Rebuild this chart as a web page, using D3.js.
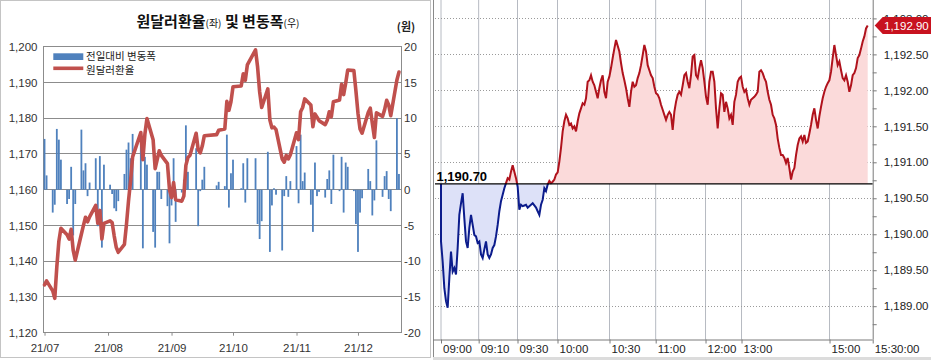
<!DOCTYPE html>
<html><head><meta charset="utf-8">
<script src="https://cdn.jsdelivr.net/npm/d3@7"></script>
<style>body{margin:0;background:#fff}svg{display:block}</style>
</head><body>
<svg id="c" width="931" height="360"></svg>
<script>
// ================= LEFT CHART DATA =================
const tradeDates = [
"07-01","07-02","07-05","07-06","07-07","07-08","07-09","07-12","07-13","07-14","07-15","07-16","07-19","07-20","07-21","07-22","07-23","07-26","07-27","07-28","07-29","07-30",
"08-02","08-03","08-04","08-05","08-06","08-09","08-10","08-11","08-12","08-13","08-17","08-18","08-19","08-20","08-23","08-24","08-25","08-26","08-27","08-30","08-31",
"09-01","09-02","09-03","09-06","09-07","09-08","09-09","09-10","09-13","09-14","09-15","09-16","09-17","09-23","09-24","09-27","09-28","09-29","09-30",
"10-01","10-05","10-06","10-07","10-08","10-12","10-13","10-14","10-15","10-18","10-19","10-20","10-21","10-22","10-25","10-26","10-27","10-28","10-29",
"11-01","11-02","11-03","11-04","11-05","11-08","11-09","11-10","11-11","11-12","11-15","11-16","11-17","11-18","11-19","11-22","11-23","11-24","11-25","11-26","11-29","11-30",
"12-01","12-02","12-03","12-06","12-07","12-08","12-09","12-10","12-13","12-14","12-15","12-16","12-17","12-20","12-21"];
const usdKrw = [
1133.4,1134.5,1131.7,1129.6,1138.4,1145.6,1149.2,1147.4,1146.2,1148.9,1143.0,1140.3,1147.6,1150.0,1152.3,1151.0,1152.4,1155.6,1150.6,1154.2,1146.2,1150.6,
1151.3,1150.8,1147.1,1143.9,1142.5,1144.7,1150.3,1156.9,1162.5,1169.2,1176.0,1168.4,1175.6,1179.9,1174.0,1165.9,1168.4,1170.9,1169.6,1167.3,1160.0,
1157.8,1162.0,1157.2,1156.8,1158.2,1166.8,1169.0,1169.6,1175.8,1171.2,1170.3,1172.2,1175.1,1175.4,1176.6,1177.0,1184.7,1182.2,1184.6,
1188.8,1189.0,1192.4,1190.6,1194.9,1199.1,1194.3,1187.4,1183.0,1188.2,1179.5,1177.3,1177.5,1176.8,1168.6,1167.7,1169.6,1168.6,1169.8,
1175.9,1174.0,1181.8,1183.0,1185.4,1183.7,1177.6,1181.2,1180.3,1179.3,1178.2,1179.4,1181.8,1180.4,1184.6,1185.1,1189.5,1186.6,1189.8,1193.5,1193.3,1187.6,
1181.4,1177.0,1175.8,1181.6,1182.8,1178.6,1174.6,1181.5,1180.5,1182.4,1185.0,1183.7,1180.7,1190.7,1192.9];
const dailyChange = [
7.1,2.0,-3.2,-2.1,8.5,7.0,4.2,-2.0,-1.3,3.2,-6.4,-2.0,8.4,2.7,3.7,-0.9,1.0,4.4,-5.1,4.7,-8.1,3.5,
0.7,-0.6,-2.6,-3.0,-1.6,2.2,5.6,6.6,4.4,7.8,6.6,-8.2,4.6,3.5,-5.9,-8.1,2.5,2.5,-1.3,-2.3,-7.5,
-2.2,4.4,-4.5,-0.4,1.4,9.0,2.5,0.1,5.8,-5.1,-0.2,1.4,3.2,0.6,1.1,0.5,7.7,-2.5,2.3,
4.2,0.2,3.7,-1.8,4.4,4.4,-4.8,-6.9,-4.4,5.3,-8.7,-2.2,0.2,-0.7,-8.5,-0.9,1.9,-1.0,1.2,
6.1,-1.9,7.7,1.2,2.4,-2.1,-5.9,3.8,-0.9,-0.3,-1.1,1.5,2.7,-2.0,4.9,-0.2,4.6,-3.2,3.8,3.2,-0.2,-4.8,
-8.7,-3.2,-1.2,2.9,1.2,-3.6,-1.5,6.9,-1.0,1.9,2.6,-1.3,-3.0,10.0,2.2];
const rateTicks = [1120,1130,1140,1150,1160,1170,1180,1190,1200];
const changeTicks = [-20,-15,-10,-5,0,5,10,15,20];
const monthTicks = ["07-01","08-01","09-01","10-01","11-01","12-01"];
const monthLabels = ["21/07","21/08","21/09","21/10","21/11","21/12"];
const leftTitle = ["원달러환율", "(좌)", " 및 ", "변동폭", "(우)"];
const legendNames = ["전일대비 변동폭", "원달러환율"];

// ================= RIGHT CHART DATA =================
const prevClose = 1190.70;
const lastPrice = 1192.90;
const intraday = [
1189.90,1189.62,1189.25,1189.07,1188.98,1189.39,1189.76,1189.48,1189.53,1189.44,
1189.81,1190.27,1190.43,1190.57,1190.22,1189.90,1189.81,1190.09,1190.27,1190.13,
1189.99,1189.97,1189.88,1189.90,1189.72,1189.67,1189.79,1189.90,1189.72,1189.67,
1189.72,1189.81,1189.85,1189.97,1190.13,1190.32,1190.46,1190.55,1190.64,1190.71,
1190.78,1190.76,1190.87,1190.96,1190.87,1190.78,1190.66,1190.34,1190.41,1190.39,
1190.40,1190.41,1190.37,1190.39,1190.41,1190.43,1190.40,1190.37,1190.32,1190.27,
1190.41,1190.48,1190.64,1190.60,1190.69,1190.74,1190.71,1190.73,1190.76,1190.83,
1190.86,1191.01,1191.20,1191.43,1191.57,1191.66,1191.61,1191.52,1191.54,1191.47,
1191.50,1191.43,1191.57,1191.68,1191.75,1191.82,1191.80,1191.89,
1192.12,1192.14,1192.21,1192.12,1192.07,1191.98,1191.89,1192.03,1192.14,1192.21,
1191.98,1191.89,1192.12,1192.19,1192.31,1192.45,1192.58,1192.70,1192.62,1192.54,
1192.38,1192.24,1192.14,1192.03,1191.89,1191.77,1191.98,1192.12,1192.05,1192.07,
1192.17,1192.24,1192.35,1192.49,1192.63,1192.54,1192.35,1192.28,1192.21,1192.17,
1192.05,1191.96,1191.94,1191.89,1191.80,1191.73,1191.66,1191.59,1191.66,1191.70,
1191.66,1191.45,1191.70,1191.84,1191.94,1191.98,1191.94,1192.07,1192.21,1192.24,
1192.12,1192.03,1192.21,1192.47,1192.49,1192.21,1192.17,1192.31,1192.42,1192.31,
1192.12,1191.91,1191.80,1192.12,1192.26,1192.26,1192.12,1191.75,1191.47,1191.75,
1191.96,1191.94,1191.70,1191.84,1191.75,1191.61,
1191.66,1191.52,1191.84,1191.94,1192.12,1192.17,1192.19,1192.05,1191.98,1192.01,
1191.89,1191.80,1191.87,1191.89,1191.91,1191.94,1191.98,1192.26,1192.28,1192.24,
1192.17,1192.12,1191.98,1191.87,1191.80,1191.66,1191.61,1191.52,1191.33,1191.20,
1191.10,1191.10,1191.06,1190.99,1191.06,1190.92,1190.76,1190.87,1190.92,1191.10,
1191.24,1191.33,1191.36,1191.29,1191.38,1191.27,1191.29,1191.40,1191.52,1191.66,
1191.75,1191.59,1191.47,1191.64,1191.77,1191.89,1191.98,1192.05,1192.10,1192.14,
1192.26,1192.45,1192.63,1192.49,1192.35,1192.40,1192.28,1192.17,1192.14,1192.21,
1192.12,1191.98,1192.07,1192.21,1192.24,1192.31,1192.45,1192.49,1192.58,1192.68,
1192.75,1192.86,1192.90];
const timeLabels = ["09:00","09:10","09:30","10:00","10:30","11:00","12:00","13:00","15:00","15:30:00"];
const timeLabelTick = [0,22.6,45.9,69.9,101.1,128.8,158.7,180.3,233.1,259];
const priceTicks = [1189.0,1189.5,1190.0,1190.5,1191.0,1191.5,1192.0,1192.5,1193.0];
const priceMinorTicks = [1188.75,1189.0,1189.25,1189.5,1189.75,1190.0,1190.25,1190.5,1190.75,1191.0,1191.25,1191.5,1191.75,1192.0,1192.25,1192.5,1192.75,1193.0];

// ================= DRAW =================
const svg = d3.select("#c");
const KR = "'Noto Sans CJK KR','Noto Sans',sans-serif";
const NUM = "'Liberation Sans',Arial,sans-serif";
const parseD = s => new Date(2021, +s.slice(0,2)-1, +s.slice(3));

// ---- left panel frame ----
svg.append("rect").attr("x",0.5).attr("y",0.5).attr("width",430).attr("height",357)
  .attr("fill","#fff").attr("stroke","#c4c4c4");

const L = {x0:43.5, x1:401, y0:46.7, y1:332.7};
const xL = d3.scaleTime().domain([new Date(2021,5,30,12), new Date(2021,11,22)]).range([L.x0, L.x1]);
const yL = d3.scaleLinear().domain([1120,1200]).range([L.y1, L.y0]);
const yB = d3.scaleLinear().domain([-20,20]).range([L.y1, L.y0]);

// gridlines
svg.append("g").selectAll("line").data(rateTicks).join("line")
  .attr("x1",L.x0).attr("x2",L.x1).attr("y1",d=>yL(d)).attr("y2",d=>yL(d))
  .attr("stroke","#8c8c8c").attr("stroke-width",1).attr("shape-rendering","crispEdges");
svg.append("rect").attr("x",L.x0).attr("y",L.y0).attr("width",L.x1-L.x0).attr("height",L.y1-L.y0)
  .attr("fill","none").attr("stroke","#8c8c8c").attr("shape-rendering","crispEdges");

// bars
const dts = tradeDates.map(parseD);
svg.append("g").selectAll("rect").data(dailyChange).join("rect")
  .attr("x",(d,i)=>xL(dts[i])-0.9).attr("width",1.8)
  .attr("y",d=>Math.min(yB(d),yB(0))).attr("height",d=>Math.abs(yB(d)-yB(0)))
  .attr("fill","#4f81bd");

// line
svg.append("path").datum(usdKrw)
  .attr("d", d3.line().x((d,i)=>xL(dts[i])).y(d=>yL(d)))
  .attr("fill","none").attr("stroke","#c0504d").attr("stroke-width",3.6)
  .attr("stroke-linejoin","round").attr("stroke-linecap","round");

// axes
const axL = svg.append("g").attr("transform",`translate(${L.x0},0)`)
  .call(d3.axisLeft(yL).tickValues(rateTicks).tickFormat(d3.format(",")).tickSize(0).tickPadding(6));
const axR = svg.append("g").attr("transform",`translate(${L.x1},0)`)
  .call(d3.axisRight(yB).tickValues(changeTicks).tickFormat(d=>String(d)).tickSize(0).tickPadding(3));
const axB = svg.append("g").attr("transform",`translate(0,${L.y1})`)
  .call(d3.axisBottom(xL).tickValues(monthTicks.map(parseD)).tickFormat((d,i)=>monthLabels[i]).tickSize(3).tickPadding(8));
[axL,axR,axB].forEach(a=>{
  a.select(".domain").remove();
  a.selectAll("text").attr("font-family",NUM).attr("font-size",11.5).attr("fill","#333");
  a.selectAll("line").attr("stroke","#8c8c8c");
});

// title
const tt = svg.append("text").attr("x",218).attr("y",27).attr("text-anchor","middle")
  .attr("font-family",KR).attr("font-weight","bold").attr("fill","#111");
tt.append("tspan").attr("font-size",15).text(leftTitle[0]);
tt.append("tspan").attr("font-size",10).attr("font-weight","normal").text(leftTitle[1]);
tt.append("tspan").attr("font-size",15).text(leftTitle[2]);
tt.append("tspan").attr("font-size",15).text(leftTitle[3]);
tt.append("tspan").attr("font-size",10).attr("font-weight","normal").text(leftTitle[4]);
svg.append("text").attr("x",406).attr("y",31).attr("text-anchor","middle")
  .attr("font-family",KR).attr("font-size",11).attr("font-weight","bold").attr("fill","#222").text("(원)");

// legend
svg.append("rect").attr("x",53.3).attr("y",53.3).attr("width",30).attr("height",6.7).attr("fill","#4f81bd");
svg.append("line").attr("x1",53.3).attr("x2",83.3).attr("y1",68.3).attr("y2",68.3)
  .attr("stroke","#c0504d").attr("stroke-width",3.6);
svg.append("text").attr("x",86).attr("y",60.2).attr("font-family",KR).attr("font-size",10.5).attr("fill","#222").text(legendNames[0]);
svg.append("text").attr("x",86).attr("y",74).attr("font-family",KR).attr("font-size",10.5).attr("fill","#222").text(legendNames[1]);

// ---------- RIGHT PANEL ----------
svg.append("line").attr("x1",433.5).attr("x2",433.5).attr("y1",0).attr("y2",357)
  .attr("stroke","#8a8a8a");
svg.append("rect").attr("x",433).attr("y",357).attr("width",498).attr("height",3).attr("fill","#dcdcdc");

const xR = d3.scaleLinear().domain([0,259]).range([441,872.7]);
const yR = d3.scaleLinear().domain([1189,1193]).range([306.2,18.4]);
const AX_Y = 339.5, GX0 = 435, GX1 = xR(259);

// vertical grid
svg.append("g").selectAll("line").data(timeLabelTick.slice(0,-1)).join("line")
  .attr("x1",d=>xR(d)).attr("x2",d=>xR(d)).attr("y1",0).attr("y2",AX_Y)
  .attr("stroke","#b6bac2").attr("stroke-width",1);
// dotted horizontal grid
svg.append("g").selectAll("line").data(priceTicks).join("line")
  .attr("x1",GX0).attr("x2",GX1).attr("y1",d=>Math.round(yR(d))+0.5).attr("y2",d=>Math.round(yR(d))+0.5)
  .attr("stroke","#9a9a9a").attr("stroke-width",1).attr("stroke-dasharray","1,2");

const yBase = yR(prevClose);
const defs = svg.append("defs");
defs.append("clipPath").attr("id","above").append("rect")
  .attr("x",433).attr("y",0).attr("width",445).attr("height",yBase);
defs.append("clipPath").attr("id","below").append("rect")
  .attr("x",433).attr("y",yBase).attr("width",445).attr("height",AX_Y-yBase);

const pts = [{i:0,p:prevClose}].concat(intraday.map((p,i)=>({i,p})));
const area = d3.area().x(d=>xR(d.i)).y0(yBase).y1(d=>yR(d.p));
const line = d3.line().x(d=>xR(d.i)).y(d=>yR(d.p));

[["above","#fbdada","#b0121c"],["below","#dde1f8","#0c1c8c"]].forEach(([id,fill,stroke])=>{
  const g = svg.append("g").attr("clip-path",`url(#${id})`);
  g.append("path").datum(pts).attr("d",area).attr("fill",fill);
  g.append("path").datum(pts).attr("d",line).attr("fill","none")
    .attr("stroke",stroke).attr("stroke-width",2).attr("stroke-linejoin","miter");
});

// previous close line
svg.append("line").attr("x1",GX0).attr("x2",GX1).attr("y1",yBase).attr("y2",yBase)
  .attr("stroke","#000").attr("stroke-width",1.3);
svg.append("text").attr("x",436.5).attr("y",yBase-2.8).attr("font-family",NUM).attr("font-weight","bold")
  .attr("font-size",13).attr("fill","#000").text(d3.format(",.2f")(prevClose));

// right axis
const ayR = svg.append("g").attr("transform",`translate(${GX1},0)`)
  .call(d3.axisRight(yR).tickValues(priceMinorTicks)
    .tickFormat(d => priceTicks.includes(d) ? d3.format(",.2f")(d) : "")
    .tickSize(4).tickPadding(7));
ayR.select(".domain").attr("d",`M0.5,0V${AX_Y}`).attr("stroke","#7a7a7a");
ayR.selectAll("line").attr("stroke","#7a7a7a");
ayR.selectAll("text").attr("font-family",NUM).attr("font-size",11.5).attr("fill","#222");

// bottom axis
const axT = svg.append("g").attr("transform",`translate(0,${AX_Y})`)
  .call(d3.axisBottom(xR).tickValues(timeLabelTick).tickFormat((d,i)=>timeLabels[i]).tickSize(4).tickPadding(1));
axT.select(".domain").attr("d",`M433,0.5H${GX1}`).attr("stroke","#7a7a7a");
axT.selectAll("line").attr("stroke","#7a7a7a");
axT.selectAll("text").attr("text-anchor","start").attr("x",1.5)
  .attr("font-family",NUM).attr("font-size",11.5).attr("fill","#222");

// last price marker
const yLast = yR(lastPrice);
svg.append("path")
  .attr("d",`M${GX1+2},${yLast} L${GX1+10},${yLast-8.5} H931 V${yLast+8.5} H${GX1+10} Z`)
  .attr("fill","#c8121f");
svg.append("text").attr("x",884).attr("y",yLast).attr("dy","0.36em")
  .attr("font-family",NUM).attr("font-size",11.5).attr("fill","#fff").text(d3.format(",.2f")(lastPrice));
</script>
</body></html>
